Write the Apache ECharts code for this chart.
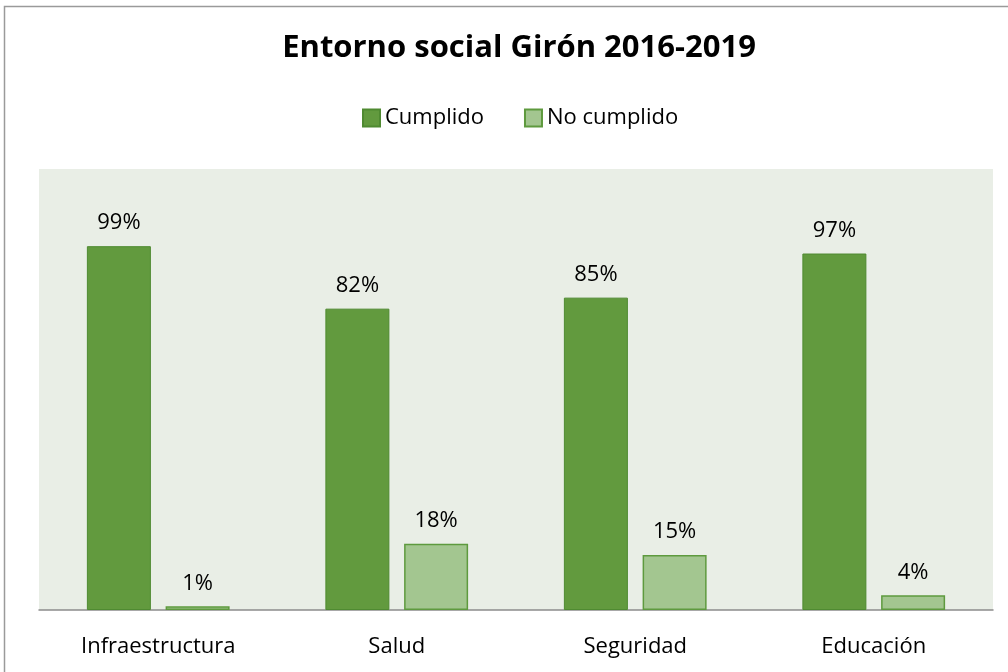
<!DOCTYPE html>
<html>
<head>
<meta charset="utf-8">
<script src="https://cdn.jsdelivr.net/npm/echarts@6/dist/echarts.min.js"></script>
<style>
  html, body { margin: 0; padding: 0; background: #fff; }
  #chart { width: 1008px; height: 672px; }
</style>
</head>
<body>
<div id="chart"></div>
<script>
// datos del gráfico
const categories = ['Infraestructura', 'Salud', 'Seguridad', 'Educación']
const cumplido = [99, 82, 85, 97]
const noCumplido = [1, 18, 15, 4]
const seriesNames = ['Cumplido', 'No cumplido']

const chart = echarts.init(document.getElementById('chart'))
const font = '"Open Sans", "DejaVu Sans", sans-serif'

const labelStyle = {
  show: true,
  position: 'top',
  distance: 12,
  formatter: p => p.value + '%',
  color: '#000',
  fontSize: 22,
  fontFamily: font
}

const option = {
  animation: false,
  backgroundColor: '#fff',
  graphic: [
    {
      type: 'rect',
      shape: { x: 4.5, y: 6.5, width: 1020, height: 700 },
      style: { fill: 'none', stroke: '#9a9a9a', lineWidth: 1.5 },
      z: -10
    }
  ],
  title: {
    text: 'Entorno social Girón 2016-2019',
    left: 514,
    textAlign: 'center',
    top: 28,
    textStyle: { fontSize: 31, fontWeight: 'bold', color: '#000', fontFamily: font }
  },
  legend: {
    top: 102,
    left: 357,
    itemWidth: 17,
    itemHeight: 17,
    itemGap: 40,
    icon: 'rect',
    textStyle: { fontSize: 22, color: '#000', fontFamily: font },
    data: seriesNames
  },
  grid: {
    left: 39,
    right: 15,
    top: 169,
    bottom: 62,
    show: true,
    backgroundColor: '#e9eee6',
    borderWidth: 0
  },
  xAxis: {
    type: 'category',
    data: categories,
    axisLine: { lineStyle: { color: '#8c8c8c', width: 1.5 } },
    axisTick: { show: false },
    axisLabel: { color: '#000', fontSize: 22, fontFamily: font, margin: 26 }
  },
  yAxis: {
    type: 'value',
    min: 0,
    max: 120,
    show: false,
    splitLine: { show: false }
  },
  series: [
    {
      name: seriesNames[0],
      type: 'bar',
      data: cumplido,
      barWidth: 64,
      barGap: '23%',
      itemStyle: { color: '#629a3e', borderColor: '#4f8a31', borderWidth: 1 },
      label: labelStyle
    },
    {
      name: seriesNames[1],
      type: 'bar',
      data: noCumplido,
      barWidth: 64,
      itemStyle: { color: '#a3c690', borderColor: '#5e9a3e', borderWidth: 1.5 },
      label: labelStyle
    }
  ]
}

chart.setOption(option)
</script>
</body>
</html>
